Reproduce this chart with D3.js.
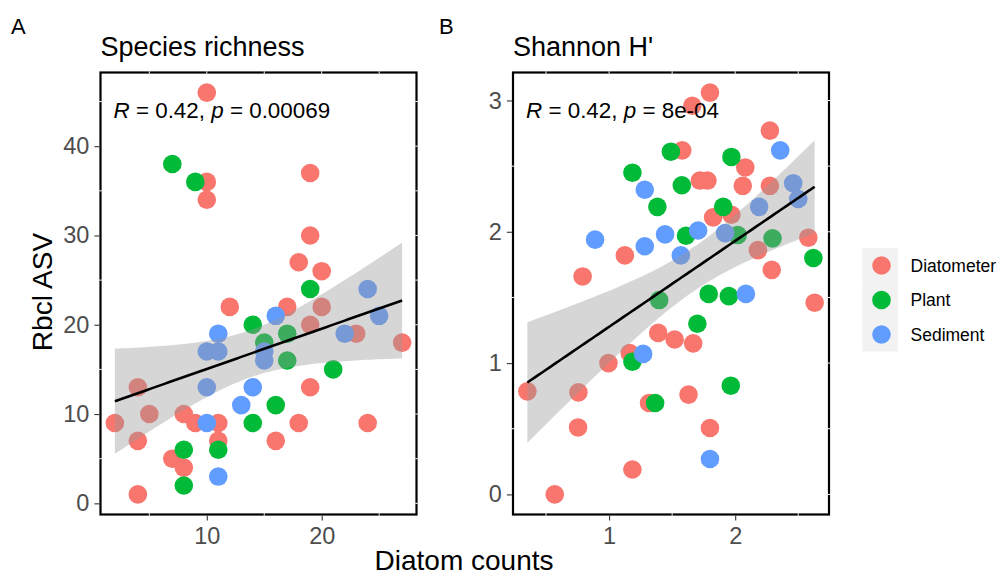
<!DOCTYPE html>
<html>
<head>
<meta charset="utf-8">
<script src="https://cdn.jsdelivr.net/npm/d3@7"></script>
<style>
  body { margin: 0; background: #fff; }
  text { font-family: "Liberation Sans", Arial, sans-serif; }
</style>
</head>
<body>
<svg id="chart" width="1000" height="576"></svg>
<script>

var groups = ["Diatometer", "Plant", "Sediment"];
var groupColors = ["#F8766D", "#00BA38", "#619CFF"];

// panel A : diatom counts vs rbcL ASV richness
var richDiatometer = [[10,46],[10,36],[10,34],[19,37],[19,30],[18,27],[20,26],[12,22],[17,22],[20,22],
  [19,20],[23,19],[27,18],[4,13],[19,13],[5,10],[8,10],[2,9],[9,9],[11,9],[18,9],[24,9],[4,7],[11,7],
  [16,7],[7,5],[8,4],[4,1]];
var richPlant = [[7,38],[9,36],[19,24],[14,20],[17,19],[15,18],[17,16],[21,15],[16,11],[14,9],[11,6],[8,6],[8,2]];
var richSediment = [[24,24],[16,21],[25,21],[11,19],[22,19],[10,17],[11,17],[15,17],[15,16],[10,13],
  [14,13],[13,11],[10,9],[11,3]];

// panel B : Shannon H'
var shanDiatometer = [[1.80,3.06],[1.66,2.96],[2.275,2.77],[1.58,2.62],[2.08,2.49],[1.72,2.39],[1.78,2.39],
  [2.06,2.35],[2.275,2.35],[1.825,2.11],[1.97,2.13],[2.58,1.955],[2.18,1.86],[1.125,1.82],[2.29,1.71],
  [0.79,1.66],[2.63,1.46],[1.39,1.23],[1.52,1.18],[1.667,1.15],[1.164,1.076],[0.995,1.0],[0.352,0.785],
  [0.757,0.777],[1.63,0.76],[1.317,0.696],[0.754,0.51],[1.80,0.506],[1.185,0.19],[0.569,0]];
var shanPlant = [[1.49,2.61],[1.97,2.57],[1.185,2.45],[1.577,2.354],[1.383,2.19],[1.905,2.19],[1.61,1.97],
  [2.02,1.975],[2.296,1.95],[2.62,1.80],[1.79,1.527],[1.95,1.51],[1.397,1.48],[1.70,1.30],[1.185,1.01],
  [1.965,0.828],[1.365,0.696]];
var shanSediment = [[2.357,2.62],[2.46,2.37],[2.50,2.25],[1.283,2.32],[2.19,2.19],[1.706,2.01],[1.444,1.98],
  [1.92,1.99],[0.889,1.94],[1.283,1.89],[1.569,1.82],[2.085,1.527],[1.27,1.07],[1.80,0.27]];

var richXTicks = [10, 20], richYTicks = [0, 10, 20, 30, 40];
var richXMinor = [5, 15, 25], richYMinor = [5, 15, 25, 35, 45];
var shanXTicks = [1, 2], shanYTicks = [0, 1, 2, 3];
var shanXMinor = [0.5, 1.5, 2.5], shanYMinor = [0.5, 1.5, 2.5];

var tCrit = 2.0; // ~qt(0.975, n-2)

var svg = d3.select("#chart");

function expand(ext) {
  var pad = (ext[1] - ext[0]) * 0.05;
  return [ext[0] - pad, ext[1] + pad];
}

function lmFit(pts) {
  var n = pts.length;
  var mx = d3.mean(pts, function(d) { return d[0]; });
  var my = d3.mean(pts, function(d) { return d[1]; });
  var sxx = d3.sum(pts, function(d) { return (d[0] - mx) * (d[0] - mx); });
  var sxy = d3.sum(pts, function(d) { return (d[0] - mx) * (d[1] - my); });
  var b = sxy / sxx, a = my - b * mx;
  var sse = d3.sum(pts, function(d) { var r = d[1] - (a + b * d[0]); return r * r; });
  var s = Math.sqrt(sse / (n - 2));
  var ext = d3.extent(pts, function(d) { return d[0]; });
  return d3.range(81).map(function(i) {
    var x = ext[0] + (ext[1] - ext[0]) * i / 80;
    var fit = a + b * x;
    var se = s * Math.sqrt(1 / n + (x - mx) * (x - mx) / sxx);
    return { x: x, fit: fit, lo: fit - tCrit * se, hi: fit + tCrit * se };
  });
}

function drawPanel(p) {
  var all = [];
  p.series.forEach(function(s) { all = all.concat(s); });

  var x = d3.scaleLinear()
    .domain(expand(d3.extent(all, function(d) { return d[0]; })))
    .range([p.left, p.right]);
  var y = d3.scaleLinear()
    .domain(expand(d3.extent(all, function(d) { return d[1]; })))
    .range([p.bottom, p.top]);

  var clipId = "clip" + p.tag;
  svg.append("clipPath").attr("id", clipId)
    .append("rect")
    .attr("x", p.left).attr("y", p.top)
    .attr("width", p.right - p.left).attr("height", p.bottom - p.top);

  var g = svg.append("g").attr("clip-path", "url(#" + clipId + ")");

  p.series.forEach(function(s, i) {
    g.selectAll(".pt" + i)
      .data(s)
      .enter()
      .append("circle")
      .attr("cx", function(d) { return x(d[0]); })
      .attr("cy", function(d) { return y(d[1]); })
      .attr("r", 9.3)
      .attr("fill", groupColors[i]);
  });

  var fit = lmFit(all);

  g.append("path")
    .datum(fit)
    .attr("fill", "#999999")
    .attr("fill-opacity", 0.4)
    .attr("d", d3.area()
      .x(function(d) { return x(d.x); })
      .y0(function(d) { return y(d.lo); })
      .y1(function(d) { return y(d.hi); }));

  g.append("path")
    .datum(fit)
    .attr("fill", "none")
    .attr("stroke", "#000")
    .attr("stroke-width", 2.6)
    .attr("d", d3.line()
      .x(function(d) { return x(d.x); })
      .y(function(d) { return y(d.fit); }));

  // border
  svg.append("rect")
    .attr("x", p.left).attr("y", p.top)
    .attr("width", p.right - p.left).attr("height", p.bottom - p.top)
    .attr("fill", "none").attr("stroke", "#000").attr("stroke-width", 2.2);

  // white grid lines poking through the border
  var gaps = svg.append("g").attr("stroke", "#fff").attr("stroke-width", 1);
  p.xMinor.concat(p.xTicks).forEach(function(v) {
    var onBottom = p.xMinor.indexOf(v) >= 0;
    gaps.append("line").attr("x1", x(v)).attr("x2", x(v)).attr("y1", p.top - 1.2).attr("y2", p.top + 1.2);
    if (onBottom) gaps.append("line").attr("x1", x(v)).attr("x2", x(v)).attr("y1", p.bottom - 1.2).attr("y2", p.bottom + 1.2);
  });
  p.yMinor.concat(p.yTicks).forEach(function(v) {
    var onLeft = p.yMinor.indexOf(v) >= 0;
    gaps.append("line").attr("y1", y(v)).attr("y2", y(v)).attr("x1", p.right - 1.2).attr("x2", p.right + 1.2);
    if (onLeft) gaps.append("line").attr("y1", y(v)).attr("y2", y(v)).attr("x1", p.left - 1.2).attr("x2", p.left + 1.2);
  });

  var xAxis = svg.append("g")
    .attr("transform", "translate(0," + (p.bottom + 1.1) + ")")
    .call(d3.axisBottom(x).tickValues(p.xTicks).tickSize(5).tickPadding(7).tickFormat(d3.format("d")));
  var yAxis = svg.append("g")
    .attr("transform", "translate(" + (p.left - 1.1) + ",0)")
    .call(d3.axisLeft(y).tickValues(p.yTicks).tickSize(5).tickPadding(5).tickFormat(d3.format("d")));

  [xAxis, yAxis].forEach(function(ax) {
    ax.select(".domain").remove();
    ax.selectAll("line").attr("stroke", "#333333").attr("stroke-width", 1.1);
    ax.selectAll("text")
      .attr("fill", "#4D4D4D")
      .style("font-size", "23.5px")
      .style("font-family", "'Liberation Sans', Arial, sans-serif");
  });

  svg.append("text")
    .attr("x", p.left).attr("y", 56)
    .style("font-size", "27px")
    .text(p.title);

  svg.append("text")
    .attr("x", p.tagX).attr("y", 34)
    .style("font-size", "22px")
    .text(p.tag);

  var lab = svg.append("text")
    .attr("x", p.left + 13).attr("y", 118)
    .style("font-size", "22.4px");
  lab.append("tspan").style("font-style", "italic").text("R");
  lab.append("tspan").text(" = 0.42, ");
  lab.append("tspan").style("font-style", "italic").text("p");
  lab.append("tspan").text(" = " + p.pText);
}

drawPanel({
  tag: "A", tagX: 11, title: "Species richness", pText: "0.00069",
  left: 100.5, right: 416.5, top: 72.5, bottom: 514.5,
  series: [richDiatometer, richPlant, richSediment],
  xTicks: richXTicks, yTicks: richYTicks, xMinor: richXMinor, yMinor: richYMinor
});

drawPanel({
  tag: "B", tagX: 439, title: "Shannon H'", pText: "8e-04",
  left: 513, right: 829, top: 72.5, bottom: 514.5,
  series: [shanDiatometer, shanPlant, shanSediment],
  xTicks: shanXTicks, yTicks: shanYTicks, xMinor: shanXMinor, yMinor: shanYMinor
});

// axis titles
svg.append("text")
  .attr("x", 464).attr("y", 570)
  .attr("text-anchor", "middle")
  .style("font-size", "28px")
  .text("Diatom counts");

svg.append("text")
  .attr("transform", "translate(52,292) rotate(-90)")
  .attr("text-anchor", "middle")
  .style("font-size", "28px")
  .text("Rbcl ASV");

// legend
var legend = svg.append("g").attr("transform", "translate(862.5,248)");
groups.forEach(function(name, i) {
  var row = legend.append("g").attr("transform", "translate(0," + (i * 34.5) + ")");
  row.append("rect")
    .attr("width", 35.5).attr("height", 34.5)
    .attr("fill", "#F2F2F2");
  row.append("circle")
    .attr("cx", 19).attr("cy", 17.5).attr("r", 9.3)
    .attr("fill", groupColors[i]);
  row.append("text")
    .attr("x", 48).attr("y", 17.5).attr("dy", "0.35em")
    .style("font-size", "17.5px")
    .text(name);
});

</script>
</body>
</html>
